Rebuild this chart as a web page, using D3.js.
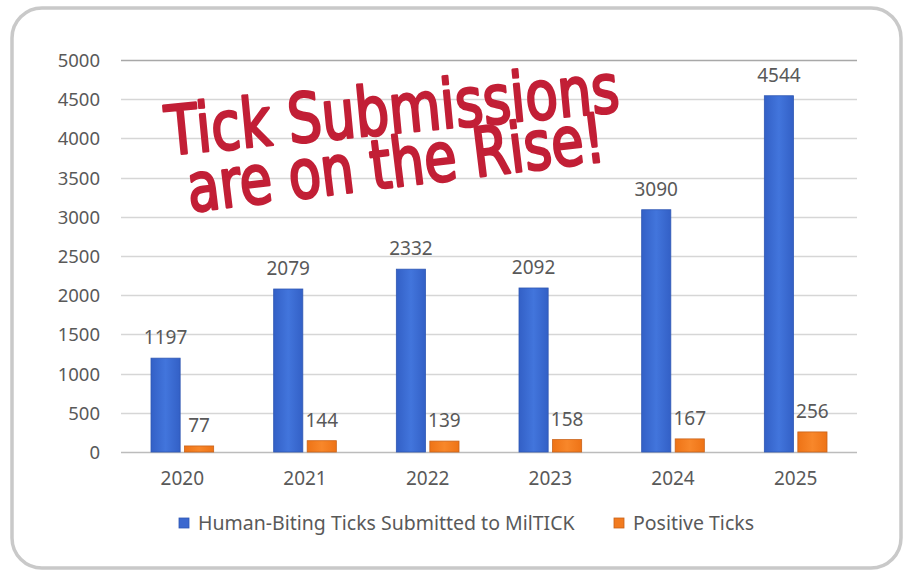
<!DOCTYPE html>
<html>
<head>
<meta charset="utf-8">
<script src="https://cdn.jsdelivr.net/npm/d3@7"></script>
<style>
  html, body { margin: 0; padding: 0; background: #fff; }
  svg { display: block; }
  text { font-family: "Noto Sans", "Open Sans", sans-serif; }
</style>
</head>
<body>
<div id="chart"></div>
<script>
(function(d3) {
  'use strict';

  var years = ['2020', '2021', '2022', '2023', '2024', '2025'];
  var submitted = [1197, 2079, 2332, 2092, 3090, 4544];
  var positive = [77, 144, 139, 158, 167, 256];
  var yTicks = [0, 500, 1000, 1500, 2000, 2500, 3000, 3500, 4000, 4500, 5000];
  var seriesNames = ['Human-Biting Ticks Submitted to MilTICK', 'Positive Ticks'];
  var headlineLines = ['Tick Submissions', 'are on the Rise!'];

  var width = 906;
  var height = 571;
  var margin = { left: 121, right: 49, top: 60, bottom: 119 };

  var blue = '#3b68cf';
  var orange = '#f27b1f';
  var labelColor = '#595959';

  var svg = d3.select('#chart')
    .append('svg')
    .attr('width', width)
    .attr('height', height);

  var defs = svg.append('defs');
  var gb = defs.append('linearGradient').attr('id', 'gBlue').attr('x1', 0).attr('x2', 1);
  gb.append('stop').attr('offset', '0%').attr('stop-color', '#3360c6');
  gb.append('stop').attr('offset', '50%').attr('stop-color', '#4275dc');
  gb.append('stop').attr('offset', '100%').attr('stop-color', '#3360c6');
  var go = defs.append('linearGradient').attr('id', 'gOrange').attr('x1', 0).attr('x2', 1);
  go.append('stop').attr('offset', '0%').attr('stop-color', '#ee7316');
  go.append('stop').attr('offset', '50%').attr('stop-color', '#f8872a');
  go.append('stop').attr('offset', '100%').attr('stop-color', '#ee7316');

  // card border
  svg.append('rect')
    .attr('x', 12).attr('y', 8)
    .attr('width', 889).attr('height', 560)
    .attr('rx', 30).attr('ry', 30)
    .attr('fill', '#fff')
    .attr('stroke', '#c9c9c9')
    .attr('stroke-width', 3.5);

  var x = d3.scaleBand()
    .domain(years)
    .range([margin.left, width - margin.right])
    .padding(0);

  var y = d3.scaleLinear()
    .domain([0, 5000])
    .range([height - margin.bottom, margin.top]);

  var inner = d3.scaleBand()
    .domain([0, 1])
    .range([30, x.bandwidth() - 30])
    .paddingInner(0.13);

  // gridlines
  svg.append('g')
    .selectAll('line')
    .data(yTicks)
    .enter()
    .append('line')
    .attr('x1', margin.left)
    .attr('x2', width - margin.right)
    .attr('y1', function(d){ return Math.round(y(d)) + 0.5; })
    .attr('y2', function(d){ return Math.round(y(d)) + 0.5; })
    .attr('stroke', function(d){ return d === 5000 ? '#a8a8a8' : (d === 0 ? '#bcbcbc' : '#d6d6d6'); })
    .attr('stroke-width', 1.3);

  // y axis labels
  var yAxis = d3.axisLeft(y).tickValues(yTicks).tickFormat(d3.format('d')).tickSize(0).tickPadding(0);
  var yg = svg.append('g')
    .attr('transform', 'translate(100,0)')
    .call(yAxis);
  yg.select('.domain').remove();
  yg.selectAll('text')
    .style('font-size', '18.5px')
    .style('fill', labelColor)
    .attr('dy', '0.35em');

  // x axis labels
  var xAxis = d3.axisBottom(x).tickSize(0).tickPadding(0);
  var xg = svg.append('g')
    .attr('transform', 'translate(0,' + (height - margin.bottom + 19) + ')')
    .call(xAxis);
  xg.select('.domain').remove();
  xg.selectAll('text')
    .style('font-size', '19px')
    .style('fill', labelColor)
    .attr('dy', '0.71em');

  var series = [
    { values: submitted, fill: 'url(#gBlue)', stroke: '#2f57b3' },
    { values: positive, fill: 'url(#gOrange)', stroke: '#c9631a' }
  ];

  series.forEach(function(s, si) {
    var g = svg.append('g');
    g.selectAll('rect')
      .data(s.values)
      .enter()
      .append('rect')
      .attr('x', function(d, i){ return x(years[i]) + inner(si); })
      .attr('width', inner.bandwidth())
      .attr('y', function(d){ return y(d); })
      .attr('height', function(d){ return y(0) - y(d); })
      .attr('fill', s.fill)
      .attr('stroke', s.stroke)
      .attr('stroke-width', 0.8);

    g.selectAll('text')
      .data(s.values)
      .enter()
      .append('text')
      .attr('x', function(d, i){ return x(years[i]) + inner(si) + inner.bandwidth() / 2; })
      .attr('y', function(d){ return y(d) - 14; })
      .attr('text-anchor', 'middle')
      .style('font-size', '19px')
      .style('fill', labelColor)
      .text(function(d){ return d; });
  });

  // legend
  var legendPos = [179, 614];
  var legend = svg.append('g').selectAll('g')
    .data(seriesNames)
    .enter()
    .append('g')
    .attr('transform', function(d, i){ return 'translate(' + legendPos[i] + ',518)'; });
  legend.append('rect')
    .attr('width', 10).attr('height', 10)
    .attr('fill', function(d, i){ return i === 0 ? blue : orange; })
    .attr('stroke', function(d, i){ return i === 0 ? '#2f57b3' : '#c9631a'; })
    .attr('stroke-width', 0.8);
  legend.append('text')
    .attr('x', 19).attr('y', 5)
    .attr('dy', '0.35em')
    .style('font-size', '19.5px')
    .style('fill', labelColor)
    .text(function(d){ return d; });

  // handwritten headline, one tilted line each
  var linePos = [
    { x: 168, y: 155, angle: -5.5, len: 455 },
    { x: 190, y: 212, angle: -7, len: 420 }
  ];
  svg.append('g')
    .selectAll('text')
    .data(headlineLines)
    .enter()
    .append('text')
    .attr('transform', function(d, i){
      var p = linePos[i];
      return 'translate(' + p.x + ',' + p.y + ') rotate(' + p.angle + ')';
    })
    .attr('textLength', function(d, i){ return linePos[i].len; })
    .attr('lengthAdjust', 'spacingAndGlyphs')
    .style('font-family', '"Liberation Sans Narrow", "DejaVu Sans Condensed", sans-serif')
    .style('font-weight', 'normal')
    .style('font-size', '68px')
    .style('fill', '#c21f36')
    .style('stroke', '#c21f36')
    .style('stroke-width', 2.6)
    .style('stroke-linejoin', 'round')
    .style('stroke-linecap', 'round')
    .text(function(d){ return d; });

})(window.d3);
</script>
</body>
</html>
